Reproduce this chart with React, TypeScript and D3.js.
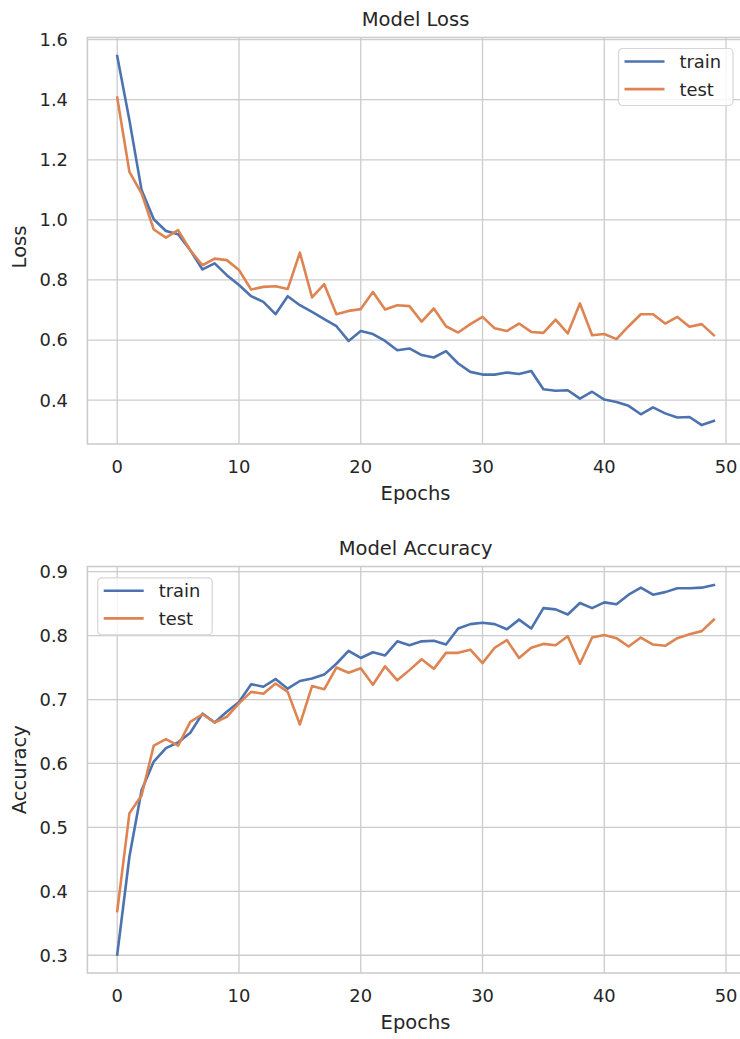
import React from "react";
import * as d3 from "d3";

const lossTrain = [1.545,1.332,1.099,1.002,0.963,0.952,0.899,0.835,0.855,0.816,0.783,0.746,0.727,0.686,0.746,0.716,0.694,0.670,0.646,0.597,0.630,0.620,0.597,0.566,0.572,0.550,0.542,0.563,0.522,0.494,0.485,0.485,0.492,0.487,0.497,0.436,0.431,0.433,0.405,0.428,0.402,0.394,0.381,0.353,0.376,0.356,0.342,0.344,0.317,0.331];
const lossTest = [1.407,1.160,1.088,0.968,0.941,0.966,0.899,0.849,0.871,0.866,0.833,0.768,0.777,0.779,0.770,0.891,0.742,0.786,0.686,0.697,0.703,0.760,0.702,0.716,0.713,0.661,0.705,0.646,0.625,0.653,0.677,0.639,0.630,0.655,0.627,0.624,0.668,0.622,0.722,0.616,0.620,0.603,0.646,0.686,0.686,0.655,0.677,0.644,0.653,0.616];
const accTrain = [0.301,0.454,0.558,0.603,0.624,0.633,0.648,0.678,0.664,0.681,0.696,0.724,0.720,0.732,0.717,0.729,0.733,0.739,0.756,0.776,0.765,0.774,0.769,0.791,0.785,0.791,0.792,0.786,0.811,0.818,0.820,0.818,0.810,0.825,0.811,0.843,0.841,0.833,0.851,0.843,0.852,0.849,0.864,0.875,0.864,0.868,0.874,0.874,0.875,0.879];
const accTest = [0.369,0.522,0.550,0.628,0.638,0.628,0.665,0.677,0.664,0.673,0.694,0.712,0.709,0.725,0.712,0.661,0.721,0.716,0.750,0.742,0.749,0.723,0.752,0.730,0.746,0.763,0.748,0.773,0.773,0.778,0.757,0.781,0.793,0.765,0.781,0.787,0.785,0.799,0.756,0.797,0.801,0.796,0.783,0.797,0.786,0.784,0.796,0.802,0.807,0.825];

const xTicks = [0, 10, 20, 30, 40, 50];
const lossTicks = [0.4, 0.6, 0.8, 1.0, 1.2, 1.4, 1.6];
const accTicks = [0.3, 0.4, 0.5, 0.6, 0.7, 0.8, 0.9];
const seriesNames = ["train", "test"];

const BLUE = "#4c72b0";
const ORANGE = "#dd8452";
const GRID = "#cccccc";
const TEXT = "#262626";
const FONT = "DejaVu Sans";
const TICK_FS = 17.9;
const LABEL_FS = 19.5;

type PanelProps = {
  top: number;
  bottom: number;
  yDomain: [number, number];
  yTicks: number[];
  train: number[];
  test: number[];
  title: string;
  ylabel: string;
  legend: { x: number; y: number };
  ylabelY?: number;
};

function Panel(p: PanelProps) {
  const left = 87.4;
  const right = 743.7;
  const x = d3.scaleLinear().domain([-2.45, 51.45]).range([left, right]);
  const y = d3.scaleLinear().domain(p.yDomain).range([p.bottom, p.top]);
  const line = d3
    .line<number>()
    .x((_, i) => x(i))
    .y((d) => y(d));
  const cx = (left + right) / 2;
  const lg = p.legend;
  const colors = [BLUE, ORANGE];
  return (
    <g>
      {p.yTicks.map((t) => (
        <line key={"gy" + t} x1={left} x2={right} y1={y(t)} y2={y(t)} stroke={GRID} strokeWidth={1.3} />
      ))}
      {xTicks.map((t) => (
        <line key={"gx" + t} x1={x(t)} x2={x(t)} y1={p.top} y2={p.bottom} stroke={GRID} strokeWidth={1.3} />
      ))}
      <rect x={left} y={p.top} width={right - left} height={p.bottom - p.top} fill="none" stroke={GRID} strokeWidth={1.6} />
      <path d={line(p.train) || ""} fill="none" stroke={BLUE} strokeWidth={2.6} strokeLinejoin="round" strokeLinecap="square" />
      <path d={line(p.test) || ""} fill="none" stroke={ORANGE} strokeWidth={2.6} strokeLinejoin="round" strokeLinecap="square" />
      {p.yTicks.map((t) => (
        <text key={"ty" + t} x={68} y={y(t)} dy="0.36em" textAnchor="end" fontSize={TICK_FS} fill={TEXT} fontFamily={FONT}>
          {d3.format(".1f")(t)}
        </text>
      ))}
      {xTicks.map((t) => (
        <text key={"tx" + t} x={x(t)} y={p.bottom + 29} textAnchor="middle" fontSize={TICK_FS} fill={TEXT} fontFamily={FONT}>
          {t}
        </text>
      ))}
      <text x={cx} y={p.bottom + 56} textAnchor="middle" fontSize={LABEL_FS} fill={TEXT} fontFamily={FONT}>
        Epochs
      </text>
      <text x={cx} y={p.top - 11.5} textAnchor="middle" fontSize={LABEL_FS} fill={TEXT} fontFamily={FONT}>
        {p.title}
      </text>
      <text
        transform={`translate(25.5,${p.ylabelY ?? (p.top + p.bottom) / 2}) rotate(-90)`}
        textAnchor="middle"
        fontSize={LABEL_FS}
        fill={TEXT}
        fontFamily={FONT}
      >
        {p.ylabel}
      </text>
      <g transform={`translate(${lg.x},${lg.y})`}>
        <rect x={0} y={0} width={114.5} height={57} rx={4} fill="white" fillOpacity={0.8} stroke="#d6d6d6" strokeWidth={1.2} />
        {seriesNames.map((n, i) => (
          <g key={n}>
            <line x1={6} x2={46} y1={13 + i * 27.6} y2={13 + i * 27.6} stroke={colors[i]} strokeWidth={2.6} />
            <text x={61} y={13 + i * 27.6} dy="0.36em" fontSize={TICK_FS} fill={TEXT} fontFamily={FONT}>
              {n}
            </text>
          </g>
        ))}
      </g>
    </g>
  );
}

export default function App() {
  return (
    <svg width={740} height={1039} style={{ position: "absolute", left: 0, top: 0, background: "white" }}>
      <rect width={740} height={1039} fill="white" />
      <Panel
        top={37.5}
        bottom={444}
        yDomain={[0.254, 1.607]}
        yTicks={lossTicks}
        train={lossTrain}
        test={lossTest}
        title="Model Loss"
        ylabel="Loss"
        legend={{ x: 618.5, y: 48.5 }}
        ylabelY={247}
      />
      <Panel
        top={566.5}
        bottom={973}
        yDomain={[0.2722, 0.9081]}
        yTicks={accTicks}
        train={accTrain}
        test={accTest}
        title="Model Accuracy"
        ylabel="Accuracy"
        legend={{ x: 97.7, y: 577.8 }}
      />
    </svg>
  );
}
